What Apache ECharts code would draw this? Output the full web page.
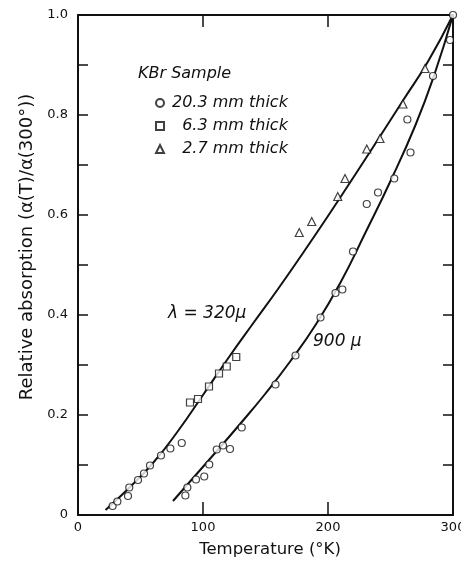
<!DOCTYPE html>
<html>
<head>
<meta charset="utf-8">
<script src="https://cdn.jsdelivr.net/npm/echarts@6/dist/echarts.min.js"></script>
<style>
  html, body { margin: 0; padding: 0; background: #fff; }
  #chart-container { width: 461px; height: 563px; }
</style>
</head>
<body>
<div id="chart-container"></div>
<script>
// data: [temperature K, relative absorption]
let thick203 = [
    [27.7, 0.018], [31.5, 0.027], [40, 0.038], [41, 0.055], [48, 0.070], [52.8, 0.083],
    [57.6, 0.099], [66.4, 0.119], [73.9, 0.133], [83, 0.144],
    [85.9, 0.039], [87.5, 0.055], [94.4, 0.071], [101, 0.077], [105, 0.101], [111, 0.131],
    [116, 0.139], [121.6, 0.132], [131, 0.175], [158, 0.261], [174, 0.319], [194, 0.395],
    [206, 0.444], [211.5, 0.451], [220, 0.527], [231, 0.622], [240, 0.645], [253, 0.673],
    [266, 0.725], [263.5, 0.791], [284, 0.878], [297.6, 0.950], [300, 1.0]
];
let thick63 = [[89.6, 0.225], [96, 0.232], [104.8, 0.257], [112.8, 0.283], [119, 0.297], [126.6, 0.316]];
let thick27 = [[177, 0.565], [187, 0.587], [207.8, 0.637], [213.6, 0.673], [231, 0.732], [241.6, 0.753], [260, 0.822], [277.6, 0.893]];

// fitted curves
let curve320 = [
    [22, 0.010], [40, 0.052], [60, 0.104], [80, 0.168], [100, 0.240], [120, 0.313], [140, 0.383],
    [160, 0.452], [180, 0.524], [200, 0.598], [220, 0.674], [240, 0.751], [260, 0.829], [280, 0.907], [300, 1.0]
];
let curve900 = [
    [76, 0.028], [90, 0.068], [110, 0.125], [130, 0.183], [150, 0.243], [170, 0.308], [190, 0.380],
    [210, 0.465], [230, 0.565], [250, 0.668], [270, 0.780], [285, 0.880], [300, 1.0]
];

let legendNames = ['20.3 mm thick', '6.3 mm thick', '2.7 mm thick'];
let xTicks = [0, 100, 200, 300];

let font = 'DejaVu Sans';
var myChart = echarts.init(document.getElementById('chart-container'));

var hollow = { color: '#fff', borderColor: '#111', borderWidth: 1.2 };
var curveStyle = { color: '#111', width: 2 };
var tickStyle = { color: '#111', width: 1.5 };

var option = {
    animation: false,
    backgroundColor: '#fff',
    grid: { left: 78, right: 8, top: 15, bottom: 48, containLabel: false, outerBoundsMode: 'none' },
    legend: {
        orient: 'vertical',
        left: 150,
        top: 90,
        itemWidth: 8,
        itemHeight: 8,
        itemGap: 7,
        data: legendNames,
        formatter: function (name) {
            return name === legendNames[0] ? name : '\u2007' + name;
        },
        textStyle: { fontFamily: font, fontStyle: 'italic', fontSize: 16, lineHeight: 16, color: '#111', padding: [0, 0, 0, 3] }
    },
    graphic: [
        { type: 'text', left: 138, top: 66, style: { text: 'KBr Sample', font: 'italic 16px "DejaVu Sans"', fill: '#111' } },
        { type: 'text', left: 168, top: 305, style: { text: 'λ = 320μ', font: 'italic 17px "DejaVu Sans"', fill: '#111' } },
        { type: 'text', left: 313, top: 333, style: { text: '900 μ', font: 'italic 17px "DejaVu Sans"', fill: '#111' } }
    ],
    xAxis: [{
        type: 'value', min: 0, max: 300, interval: 100,
        name: 'Temperature (°K)', nameLocation: 'middle', nameGap: 26,
        nameTextStyle: { fontFamily: font, fontSize: 16.5, color: '#111', padding: [0, 0, 0, 9] },
        axisLine: { onZero: false, lineStyle: { color: '#111', width: 2 } },
        axisTick: { inside: true, length: 13, lineStyle: tickStyle },
        axisLabel: {
            margin: 6, fontFamily: font, fontSize: 13, color: '#111',
            formatter: function (v) { return xTicks.indexOf(v) >= 0 ? String(v) : ''; }
        },
        splitLine: { show: false }
    }, {
        type: 'value', min: 0, max: 300, interval: 100, position: 'top',
        axisLine: { onZero: false, lineStyle: { color: '#111', width: 2 } },
        axisTick: { inside: true, length: 12, lineStyle: tickStyle },
        axisLabel: { show: false },
        splitLine: { show: false }
    }],
    yAxis: [{
        type: 'value', min: 0, max: 1, interval: 0.1,
        name: 'Relative absorption (α(T)/α(300°))', nameLocation: 'middle', nameGap: 42,
        nameTextStyle: { fontFamily: font, fontSize: 18, color: '#111', padding: [0, 0, 0, 36] },
        axisLine: { show: true, onZero: false, lineStyle: { color: '#111', width: 2 } },
        axisTick: { show: true, inside: true, length: 10, lineStyle: tickStyle },
        axisLabel: {
            margin: 10, fontFamily: font, fontSize: 13, color: '#111',
            formatter: function (v) {
                var k = Math.round(v * 10);
                if (k % 2 !== 0) return '';
                return k === 0 ? '0' : (k / 10).toFixed(1);
            }
        },
        splitLine: { show: false }
    }, {
        type: 'value', min: 0, max: 1, interval: 0.1, position: 'right',
        axisLine: { show: true, onZero: false, lineStyle: { color: '#111', width: 2 } },
        axisTick: { show: true, inside: true, length: 10, lineStyle: tickStyle },
        axisLabel: { show: false },
        splitLine: { show: false }
    }],
    series: [
        { name: 'λ = 320μ', type: 'line', smooth: 0.5, showSymbol: false, data: curve320, lineStyle: curveStyle, z: 2 },
        { name: '900 μ', type: 'line', smooth: 0.5, showSymbol: false, data: curve900, lineStyle: curveStyle, z: 2 },
        { name: legendNames[0], type: 'scatter', symbol: 'circle', symbolSize: 7, data: thick203, itemStyle: hollow, z: 3 },
        { name: legendNames[1], type: 'scatter', symbol: 'rect', symbolSize: 7, data: thick63, itemStyle: hollow, z: 3 },
        { name: legendNames[2], type: 'scatter', symbol: 'triangle', symbolSize: 8, data: thick27, itemStyle: hollow, z: 3 }
    ]
};

myChart.setOption(option);
</script>
</body>
</html>
